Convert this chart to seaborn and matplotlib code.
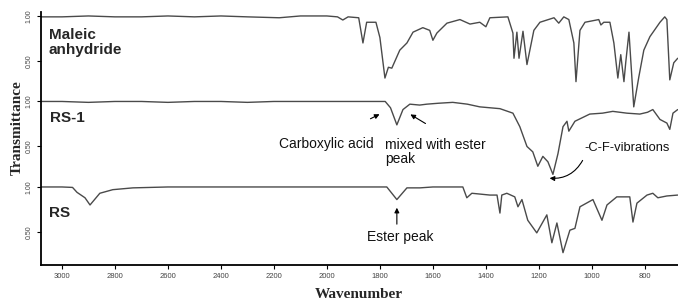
import numpy as np
import pandas as pd
import matplotlib
matplotlib.use("Agg")
import matplotlib.pyplot as plt
import seaborn as sns

# ---------------- data ----------------
maleic_wn = [3079, 3000, 2900, 2800, 2700, 2600, 2500, 2400, 2300, 2180, 2100, 2000,
             1960, 1940, 1920, 1880, 1864, 1850, 1815, 1800, 1781, 1768, 1755, 1725,
             1698, 1675, 1638, 1612, 1600, 1585, 1547, 1498, 1460, 1423, 1400, 1385,
             1317, 1298, 1294, 1283, 1275, 1260, 1245, 1219, 1196, 1143, 1125, 1106,
             1087, 1068, 1060, 1045, 1026, 974, 966, 955, 932, 917, 902, 891, 879, 872,
             860, 842, 823, 804, 781, 743, 725, 717, 706, 691, 676]
maleic_t = [0.99, 0.99, 1.00, 0.99, 0.99, 1.00, 0.99, 1.00, 0.99, 0.98, 1.00, 1.00,
            0.99, 0.955, 0.99, 0.98, 0.70, 0.93, 0.93, 0.76, 0.31, 0.43, 0.42, 0.62,
            0.70, 0.82, 0.87, 0.84, 0.73, 0.81, 0.92, 0.96, 0.91, 0.93, 0.88, 0.98,
            0.99, 0.81, 0.53, 0.82, 0.53, 0.83, 0.46, 0.84, 0.93, 0.98, 0.92, 0.99,
            0.96, 0.70, 0.27, 0.84, 0.93, 0.96, 0.90, 0.93, 0.93, 0.70, 0.31, 0.57, 0.27, 0.49,
            0.82, -0.01, 0.32, 0.62, 0.77, 0.93, 0.99, 0.96, 0.29, 0.48, 0.53]

rs1_wn = [3079, 3000, 2900, 2800, 2700, 2600, 2500, 2400, 2300, 2200, 2100, 2000,
          1900, 1780, 1760, 1736, 1713, 1687, 1650, 1623, 1580, 1525, 1470, 1423,
          1347, 1298, 1272, 1245, 1223, 1204, 1185, 1166, 1147, 1128, 1109, 1094,
          1087, 1064, 1008, 960, 921, 868, 819, 790, 770, 743, 717, 706, 694, 676]
rs1_t = [1.00, 1.00, 0.99, 1.00, 1.00, 0.99, 1.00, 1.00, 0.99, 1.00, 1.00, 1.00,
         1.00, 1.00, 0.93, 0.74, 0.91, 0.97, 0.96, 0.97, 0.98, 0.99, 0.97, 0.94,
         0.92, 0.87, 0.72, 0.50, 0.44, 0.28, 0.39, 0.33, 0.19, 0.42, 0.72, 0.78,
         0.67, 0.78, 0.86, 0.87, 0.89, 0.87, 0.86, 0.88, 0.91, 0.80, 0.76, 0.69, 0.87, 0.91]

rs_wn = [3079, 3000, 2960, 2943, 2913, 2894, 2857, 2808, 2732, 2600, 2400, 2200,
         2000, 1800, 1774, 1736, 1698, 1649, 1600, 1487, 1472, 1453, 1385, 1358,
         1347, 1340, 1321, 1291, 1279, 1264, 1242, 1208, 1170, 1151, 1132, 1109,
         1083, 1064, 1045, 996, 962, 943, 906, 857, 845, 830, 792, 770, 751, 717, 676]
rs_t = [1.00, 1.00, 0.995, 0.94, 0.88, 0.80, 0.93, 0.97, 0.99, 1.00, 1.00, 1.00,
        1.00, 1.00, 1.00, 0.86, 0.99, 0.99, 1.00, 1.00, 0.88, 0.93, 0.91, 0.91,
        0.71, 0.91, 0.93, 0.89, 0.78, 0.86, 0.63, 0.49, 0.69, 0.38, 0.60, 0.27,
        0.52, 0.54, 0.78, 0.86, 0.63, 0.80, 0.89, 0.89, 0.61, 0.82, 0.91, 0.93, 0.88, 0.90, 0.91]

names = ["Maleic\nanhydride", "RS-1", "RS"]
offsets = [1.9, 0.95, 0.0]
x_ticks = [3000, 2800, 2600, 2400, 2200, 2000, 1800, 1600, 1400, 1200, 1000, 800]
y_tick_vals = [1.00, 0.50]
y_tick_labels = ["1.00", "0.50"]

# ---------------- figure ----------------
sns.set_style("ticks")
plt.rcParams["font.family"] = ["Liberation Sans", "DejaVu Sans"]

fig = plt.figure(figsize=(6.78, 3.03), dpi=100)
ax = fig.add_axes([41 / 678, 1 - 265 / 303, 1 - 41 / 678, (265 - 12) / 303])

line_color = "#4a4a4a"
for wn, t, off in zip([maleic_wn, rs1_wn, rs_wn], [maleic_t, rs1_t, rs_t], offsets):
    df = pd.DataFrame({"wavenumber": wn, "T": np.array(t) + off})
    sns.lineplot(data=df, x="wavenumber", y="T", ax=ax, color=line_color,
                 linewidth=1.0, estimator=None)

ax.set_xlim(3079, 675)
ax.set_ylim(0.133, 2.944)
ax.set_xticks(x_ticks)
ax.set_xticklabels([str(v) for v in x_ticks], fontsize=5.5, color="#444444")

yt, yl = [], []
for off in offsets:
    for v, lab in zip(y_tick_vals, y_tick_labels):
        yt.append(v + off)
        yl.append(lab)
ax.set_yticks(yt)
ax.set_yticklabels(yl, fontsize=5, color="#444444", rotation=90, va="center")
ax.tick_params(axis="both", direction="out", length=3, width=0.8, pad=3, color="black")

for s in ["top", "right"]:
    ax.spines[s].set_visible(False)
for s in ["left", "bottom"]:
    ax.spines[s].set_linewidth(1.3)
    ax.spines[s].set_color("black")

ax.set_xlabel("")
ax.set_ylabel("")
fig.text(359 / 678, 1 - 295 / 303, "Wavenumber", ha="center", va="center",
         family="Liberation Serif", fontweight="bold", fontsize=11)
fig.text(17 / 678, 1 - 128 / 303, "Transmittance", ha="center", va="center",
         rotation=90, family="Liberation Serif", fontweight="bold", fontsize=11)

# spectrum labels
ax.text(3049, 2.606, names[0], ha="left", va="center", fontsize=11, fontweight="bold",
        linespacing=1.15)
ax.text(3045, 1.767, names[1], ha="left", va="center", fontsize=11, fontweight="bold")
ax.text(3049, 0.711, names[2], ha="left", va="center", fontsize=11, fontweight="bold")

# annotations
tcol = "#111111"
ax.text(2002, 1.478, "Carboxylic acid", ha="center", va="center", fontsize=10, color=tcol)
ax.text(1781, 1.389, "mixed with ester\npeak", ha="left", va="center", fontsize=10,
        color=tcol, linespacing=1.0)
ax.text(1030, 1.433, "-C-F-vibrations", ha="left", va="center", fontsize=9.3, color=tcol)
ax.text(1725, 0.444, "Ester peak", ha="center", va="center", fontsize=10, color=tcol)

arrow_kw = dict(arrowstyle="-|>", color="black", lw=0.8, mutation_scale=7)
ax.annotate("", xy=(1792, 1.822), xytext=(1845, 1.744), arrowprops=arrow_kw)
ax.annotate("", xy=(1694, 1.822), xytext=(1619, 1.689), arrowprops=arrow_kw)
ax.annotate("", xy=(1736, 0.80), xytext=(1736, 0.556), arrowprops=arrow_kw)
ax.annotate("", xy=(1170, 1.10), xytext=(1030, 1.322),
            arrowprops=dict(arrowstyle="-|>", color="black", lw=0.8, mutation_scale=7,
                            connectionstyle="arc3,rad=-0.35"))

fig.savefig("out.png", dpi=100)
